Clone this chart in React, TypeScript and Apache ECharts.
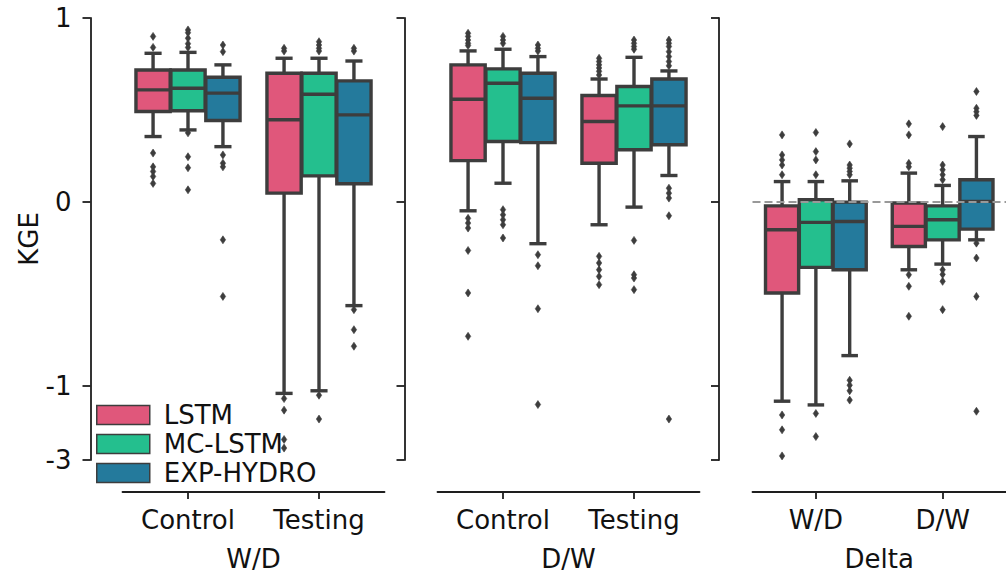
import React, { useEffect, useRef } from "react";
import * as echarts from "echarts";

// ---------- data ----------
const panelNames = ["W/D", "D/W", "Delta"];
const wdCategories = ["Control", "Testing"];
const dwCategories = ["Control", "Testing"];
const deltaCategories = ["W/D", "D/W"];
const models = ["LSTM", "MC-LSTM", "EXP-HYDRO"];
const modelColors = ["#E0577B", "#24BF8E", "#247A9C"];
const yTickValues = [1, 0, -1, -3];

// [lower whisker, Q1, median, Q3, upper whisker] per category
const wdLSTM = [[0.355, 0.491, 0.609, 0.717, 0.808], [-1.21, 0.047, 0.446, 0.699, 0.781]];
const wdMC = [[0.391, 0.495, 0.618, 0.717, 0.813], [-1.14, 0.141, 0.585, 0.699, 0.781]];
const wdEXP = [[0.30, 0.442, 0.591, 0.678, 0.745], [-0.565, 0.098, 0.473, 0.658, 0.766]];
const dwLSTM = [[-0.049, 0.224, 0.558, 0.745, 0.821], [-0.125, 0.21, 0.437, 0.578, 0.668]];
const dwMC = [[0.101, 0.328, 0.645, 0.723, 0.83], [-0.029, 0.283, 0.522, 0.627, 0.786]];
const dwEXP = [[-0.228, 0.322, 0.563, 0.699, 0.79], [0.143, 0.31, 0.522, 0.668, 0.712]];
const deltaLSTM = [[-1.42, -0.496, -0.152, -0.022, 0.11], [-0.37, -0.243, -0.134, -0.007, 0.156]];
const deltaMC = [[-1.52, -0.357, -0.112, 0.011, 0.11], [-0.339, -0.207, -0.098, -0.022, 0.089]];
const deltaEXP = [[-0.837, -0.37, -0.107, -0.002, 0.114], [-0.207, -0.149, 0.002, 0.12, 0.355]];

// outliers per category
const wdLSTMOut = [[0.90, 0.84, 0.265, 0.19, 0.165, 0.138, 0.10], [0.835, 0.82, -1.35, -1.66, -2.45, -2.68]];
const wdMCOut = [[0.935, 0.92, 0.89, 0.86, 0.84, 0.375, 0.245, 0.185, 0.065], [0.871, 0.853, 0.835, 0.82, -1.26, -1.9]];
const wdEXPOut = [[0.853, 0.817, 0.255, 0.21, 0.19, -0.207, -0.515], [0.835, 0.82, -0.587, -0.696, -0.786]];
const dwLSTMOut = [[0.917, 0.90, 0.88, 0.862, 0.85, -0.09, -0.116, -0.143, -0.265, -0.496, -0.732], [0.781, 0.763, 0.745, 0.728, 0.71, 0.69, -0.297, -0.333, -0.37, -0.406, -0.451]];
const dwMCOut = [[0.90, 0.88, 0.862, -0.043, -0.071, -0.098, -0.125, -0.197], [0.88, 0.862, 0.845, 0.83, -0.21, -0.397, -0.415, -0.478]];
const dwEXPOut = [[0.853, 0.835, 0.82, -0.288, -0.348, -0.582, -1.51], [0.88, 0.862, 0.845, 0.817, 0.79, 0.763, 0.74, 0.074, 0.047, 0.02, -0.076, -1.9]];
const deltaLSTMOut = [[0.364, 0.255, 0.228, 0.2, 0.147, -1.79, -2.19, -2.89], [0.424, 0.364, 0.209, 0.19, -0.397, -0.46, -0.623]];
const deltaMCOut = [[0.377, 0.273, 0.228, 0.147, -1.75, -2.37], [0.409, 0.2, 0.174, 0.147, 0.12, -0.37, -0.395, -0.433, -0.587]];
const deltaEXPOut = [[0.315, 0.2, 0.183, 0.165, 0.147, -0.971, -0.998, -1.14, -1.39], [0.6, 0.509, 0.49, 0.47, -0.225, -0.306, -0.515, -1.69]];

// ---------- scale (linear above -1, compressed below) ----------
const COMPRESS = 0.2025;
const tf = (v: number) => (v >= -1 ? v : -1 + (v + 1) * COMPRESS);
const Y_MIN = tf(-3);
const tickPositions = yTickValues.map(tf);
const labelFor = (val: number) => {
  let best = 0;
  for (let i = 0; i < tickPositions.length; i++) {
    if (Math.abs(tickPositions[i] - val) < Math.abs(tickPositions[best] - val)) best = i;
  }
  return String(yTickValues[best]);
};

const FONT = "DejaVu Sans";
const FS = 26;
const EDGE = "#3d3d3d";
const AXIS = "#1e1e1e";
const TEXT = "#111111";

const panelCategories = [wdCategories, dwCategories, deltaCategories];
const panelBoxes = [
  [wdLSTM, wdMC, wdEXP],
  [dwLSTM, dwMC, dwEXP],
  [deltaLSTM, deltaMC, deltaEXP],
];
const panelOutliers = [
  [wdLSTMOut, wdMCOut, wdEXPOut],
  [dwLSTMOut, dwMCOut, dwEXPOut],
  [deltaLSTMOut, deltaMCOut, deltaEXPOut],
];

function boxRenderer(color: string, hue: number) {
  return (params: any, api: any) => {
    const cat = api.value(0);
    const lo = api.coord([cat, api.value(1)]);
    const q1 = api.coord([cat, api.value(2)]);
    const med = api.coord([cat, api.value(3)]);
    const q3 = api.coord([cat, api.value(4)]);
    const hi = api.coord([cat, api.value(5)]);
    const band = api.size([1, 0])[0];
    const slot = (band * 0.8) / 3;
    const cx = lo[0] + (hue - 1) * slot;
    const w = slot * 0.98;
    const half = w / 2;
    const capHalf = w / 4;
    const ls = { stroke: EDGE, lineWidth: 3.4 };
    return {
      type: "group",
      children: [
        { type: "line", shape: { x1: cx, y1: q1[1], x2: cx, y2: lo[1] }, style: ls },
        { type: "line", shape: { x1: cx, y1: q3[1], x2: cx, y2: hi[1] }, style: ls },
        { type: "line", shape: { x1: cx - capHalf, y1: lo[1], x2: cx + capHalf, y2: lo[1] }, style: ls },
        { type: "line", shape: { x1: cx - capHalf, y1: hi[1], x2: cx + capHalf, y2: hi[1] }, style: ls },
        {
          type: "rect",
          shape: { x: cx - half, y: q3[1], width: w, height: q1[1] - q3[1] },
          style: { fill: color, stroke: EDGE, lineWidth: 3.4 },
        },
        { type: "line", shape: { x1: cx - half, y1: med[1], x2: cx + half, y2: med[1] }, style: ls },
      ],
    };
  };
}

function outlierRenderer(hue: number) {
  return (params: any, api: any) => {
    const cat = api.value(0);
    const p = api.coord([cat, api.value(1)]);
    const band = api.size([1, 0])[0];
    const slot = (band * 0.8) / 3;
    const cx = p[0] + (hue - 1) * slot;
    const y = p[1];
    return {
      type: "polygon",
      shape: { points: [[cx, y - 4], [cx + 2.7, y], [cx, y + 4], [cx - 2.7, y]] },
      style: { fill: EDGE, stroke: EDGE, lineWidth: 0.6 },
    };
  };
}

export default function App() {
  const ref = useRef<HTMLDivElement>(null);
  useEffect(() => {
    if (!ref.current) return;
    const chart = echarts.init(ref.current, null, { renderer: "svg" });
    const gridLefts = [122.5, 437.5, 752.5];
    const yOffsets = [32, 33, 33.5];

    const grid = gridLefts.map((l) => ({ left: l, top: 18, width: 262, height: 443, containLabel: false }));

    const xAxis = panelNames.map((name, i) => ({
      type: "category",
      gridIndex: i,
      data: panelCategories[i],
      name,
      nameLocation: "middle",
      nameGap: 54,
      nameTextStyle: { fontSize: FS, fontFamily: FONT, color: TEXT },
      offset: 32,
      axisLine: { show: true, onZero: false, lineStyle: { color: AXIS, width: 1.8 } },
      axisTick: { show: true, alignWithLabel: true, length: 7, lineStyle: { color: AXIS, width: 1.8 } },
      axisLabel: { fontSize: FS, fontFamily: FONT, color: TEXT, margin: 15 },
      splitLine: { show: false },
    }));

    const yAxis = panelNames.map((_, i) => ({
      type: "value",
      gridIndex: i,
      min: Y_MIN,
      max: 1,
      offset: yOffsets[i],
      name: i === 0 ? "KGE" : "",
      nameLocation: "middle",
      nameRotate: 90,
      nameGap: 46,
      nameTextStyle: { fontSize: FS, fontFamily: FONT, color: TEXT },
      axisLine: { show: true, onZero: false, lineStyle: { color: AXIS, width: 1.8 } },
      axisTick: { show: true, length: 8, customValues: tickPositions, lineStyle: { color: AXIS, width: 1.8 } },
      axisLabel: {
        show: i === 0,
        customValues: tickPositions,
        formatter: (v: number) => labelFor(v),
        fontSize: FS,
        fontFamily: FONT,
        color: TEXT,
        margin: 19,
      },
      splitLine: { show: false },
    }));

    const series: any[] = [];
    panelNames.forEach((_, p) => {
      models.forEach((model, m) => {
        const boxes = panelBoxes[p][m];
        series.push({
          type: "custom",
          name: model,
          xAxisIndex: p,
          yAxisIndex: p,
          itemStyle: { color: modelColors[m] },
          encode: { x: 0, y: [1, 2, 3, 4, 5] },
          renderItem: boxRenderer(modelColors[m], m),
          data: boxes.map((b, c) => [c, ...b.map(tf)]),
          z: 2,
        });
      });
    });
    panelNames.forEach((_, p) => {
      models.forEach((model, m) => {
        const outs = panelOutliers[p][m];
        const data: number[][] = [];
        outs.forEach((list, c) => list.forEach((v) => data.push([c, tf(v)])));
        series.push({
          type: "custom",
          name: model + " outliers",
          xAxisIndex: p,
          yAxisIndex: p,
          encode: { x: 0, y: 1 },
          renderItem: outlierRenderer(m),
          data,
          z: 3,
        });
      });
    });
    series.push({
      type: "line",
      name: "zero",
      xAxisIndex: 2,
      yAxisIndex: 2,
      data: [],
      z: 5,
      markLine: {
        silent: true,
        symbol: "none",
        label: { show: false },
        lineStyle: { type: [8, 4], color: "#999999", width: 2 },
        data: [{ yAxis: 0 }],
      },
    });

    chart.setOption({
      animation: false,
      backgroundColor: "#ffffff",
      grid,
      xAxis,
      yAxis,
      legend: {
        show: true,
        orient: "vertical",
        left: 96,
        top: 402,
        padding: 0,
        icon: "rect",
        itemWidth: 53,
        itemHeight: 19,
        itemGap: 3,
        selectedMode: false,
        textStyle: { fontSize: FS, fontFamily: FONT, color: TEXT, padding: [0, 0, 0, 9] },
        data: models.map((name, i) => ({
          name,
          itemStyle: { color: modelColors[i], borderColor: EDGE, borderWidth: 1.5 },
        })),
      },
      series,
    });
    return () => chart.dispose();
  }, []);
  return (
    <div
      ref={ref}
      style={{ position: "absolute", left: 0, top: 0, width: 1006, height: 577 }}
    />
  );
}
